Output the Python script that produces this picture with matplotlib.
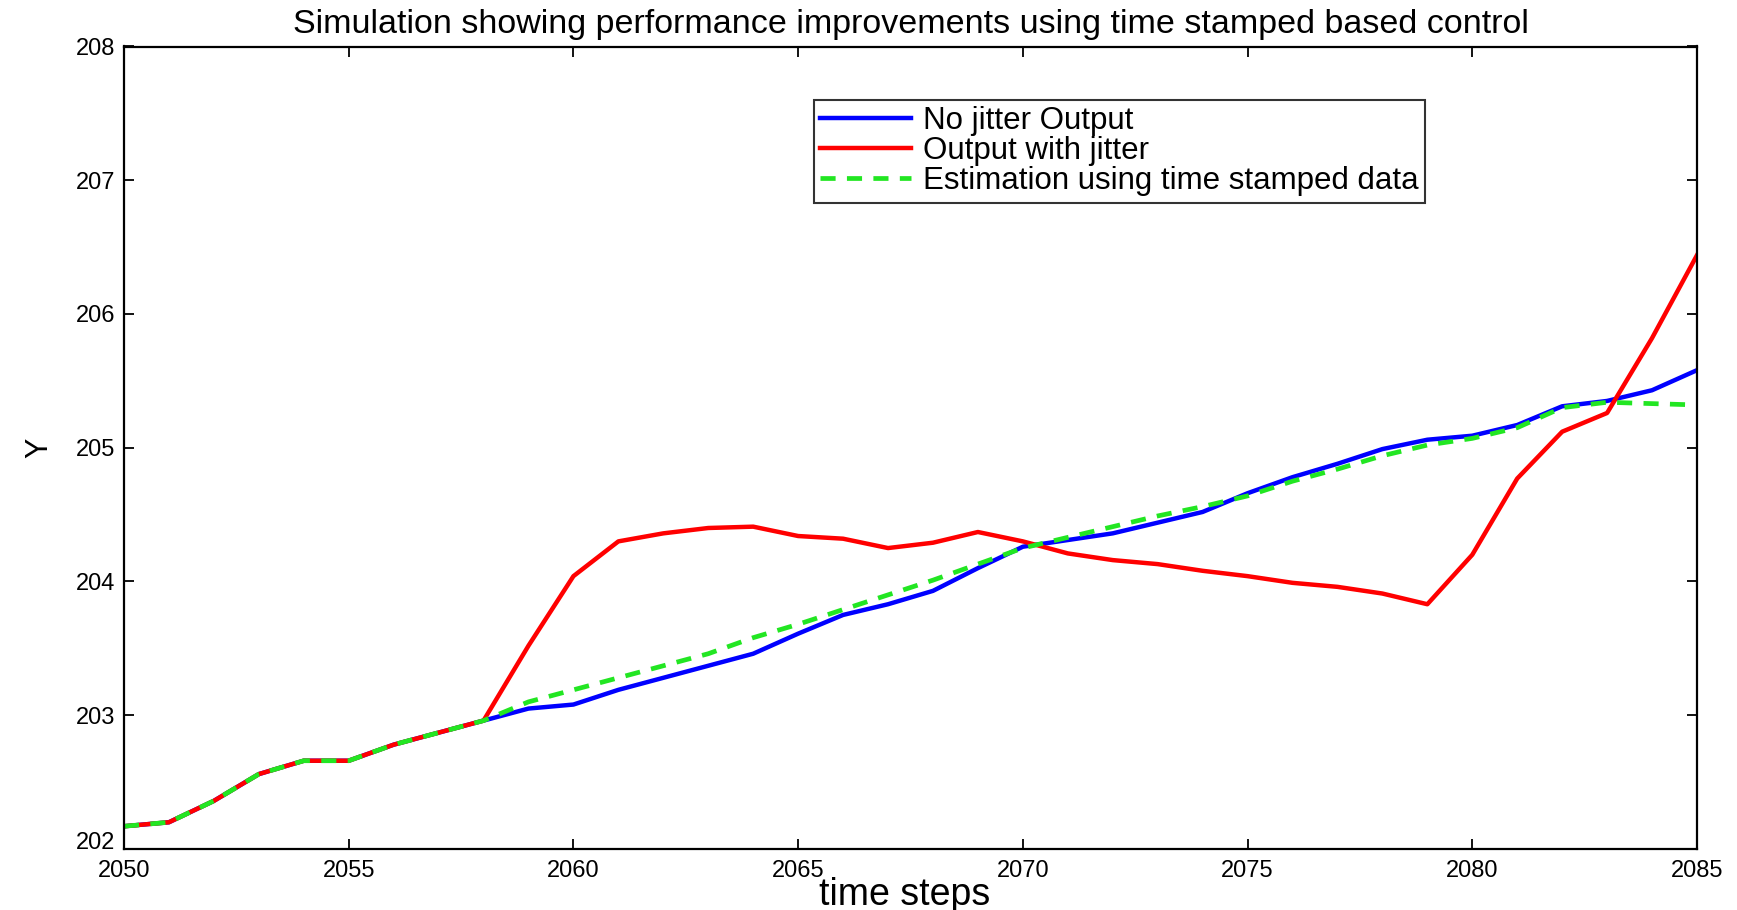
import matplotlib
matplotlib.use("Agg")
import matplotlib.pyplot as plt
import matplotlib.transforms as mtransforms
import numpy as np

years = list(range(2050, 2086))

no_jitter = [202.17, 202.20, 202.36, 202.56, 202.66, 202.66, 202.78, 202.87, 202.96,
             203.05, 203.08, 203.19, 203.28, 203.37, 203.46, 203.61, 203.75, 203.83,
             203.93, 204.10, 204.26, 204.31, 204.36, 204.44, 204.52, 204.66, 204.78,
             204.88, 204.99, 205.06, 205.09, 205.17, 205.31, 205.35, 205.43, 205.58]

with_jitter = [202.17, 202.20, 202.36, 202.56, 202.66, 202.66, 202.78, 202.87, 202.96,
               203.52, 204.04, 204.30, 204.36, 204.40, 204.41, 204.34, 204.32, 204.25,
               204.29, 204.37, 204.30, 204.21, 204.16, 204.13, 204.08, 204.04, 203.99,
               203.96, 203.91, 203.83, 204.20, 204.77, 205.12, 205.26, 205.82, 206.44]

estimation = [202.17, 202.20, 202.36, 202.56, 202.66, 202.66, 202.78, 202.87, 202.96,
              203.10, 203.19, 203.28, 203.37, 203.46, 203.58, 203.68, 203.79, 203.90,
              204.01, 204.13, 204.25, 204.33, 204.41, 204.49, 204.56, 204.64, 204.75,
              204.84, 204.94, 205.02, 205.07, 205.15, 205.30, 205.34, 205.33, 205.32]

x_ticks = [2050, 2055, 2060, 2065, 2070, 2075, 2080, 2085]
y_ticks = [202, 203, 204, 205, 206, 207, 208]

plt.rcParams['font.family'] = ['Liberation Sans', 'DejaVu Sans']

fig = plt.figure(figsize=(17.37, 9.10), dpi=100)
ax = fig.add_axes([124/1737, 1 - 849/910, (1697-124)/1737, (849-46.5)/910])

ax.plot(years, no_jitter, color='#0000ff', lw=3.2, label='No jitter Output')
ax.plot(years, with_jitter, color='#ff0000', lw=3.2, label='Output with jitter')
ax.plot(years, estimation, color='#22e622', lw=3.4, ls=(0, (3.2, 2.4)),
        label='Estimation using time stamped data')

ax.set_xlim(2050, 2085)
ax.set_ylim(202, 208)
ax.set_xticks(x_ticks)
ax.set_yticks(y_ticks)
ax.tick_params(direction='in', length=7, width=1.3, top=True, right=True,
               labelsize=17)
ax.tick_params(axis='x', pad=8)
ax.tick_params(axis='y', pad=6)
for s in ax.spines.values():
    s.set_linewidth(1.6)

# lift the lowest y label slightly, as in the reference
lbl = ax.get_yticklabels()[0]
lbl.set_transform(lbl.get_transform() +
                  mtransforms.ScaledTranslation(0, 6/72, fig.dpi_scale_trans))

ax.set_title('Simulation showing performance improvements using time stamped based control',
             fontsize=24.5, pad=10)
ax.set_xlabel('time steps', fontsize=27)
ax.xaxis.set_label_coords(0.496, -0.035)
ax.xaxis.label.set_va('top')
ax.set_ylabel('Y', fontsize=22, labelpad=16)

leg = ax.legend(loc='upper left', bbox_to_anchor=((814-124)/1573, (849-100)/802.5),
                fontsize=22.5, frameon=True, fancybox=False, edgecolor='black',
                handlelength=2.9, handletextpad=0.4, labelspacing=0.0,
                borderpad=0.2, borderaxespad=0)
leg.get_frame().set_linewidth(1.5)

fig.savefig('out.png', dpi=100, facecolor='white')
